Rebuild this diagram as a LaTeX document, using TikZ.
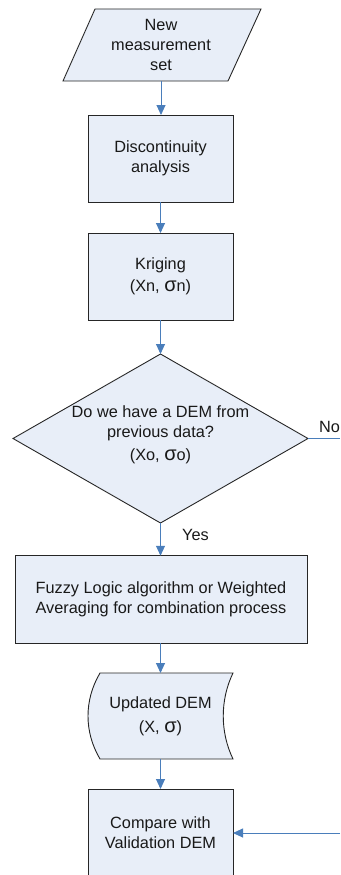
\documentclass[tikz,border=0pt]{standalone}
\usepackage{fontspec}
\setmainfont{Liberation Sans}
\usetikzlibrary{shapes.geometric,arrows.meta}
\definecolor{boxfill}{RGB}{232,238,248}
\definecolor{arrowblue}{RGB}{74,126,187}
\definecolor{edgecol}{RGB}{38,38,38}
\definecolor{txtcol}{RGB}{25,25,25}
\newcommand{\fsz}{\fontsize{16.3}{20}\selectfont}
\newcommand{\sig}{{\fontsize{20}{20}\selectfont σ}}
\begin{document}
\begin{tikzpicture}[x=1pt,y=-1pt,
  shapeline/.style={draw=edgecol,fill=boxfill,line width=0.9pt},
  box/.style={shapeline,minimum width=145pt,minimum height=87pt,inner sep=0pt,outer sep=0pt,align=center,font=\fsz,text=txtcol},
  plain/.style={minimum width=145pt,minimum height=86pt,inner sep=0pt,outer sep=0pt,align=center,font=\fsz,text=txtcol},
  conn/.style={draw=arrowblue,line width=0.9pt,-{Triangle[length=10pt,width=9pt]}},
  connplain/.style={draw=arrowblue,line width=0.9pt},
  lbl/.style={font=\fsz,text=txtcol,inner sep=0pt,anchor=base west}]
\useasboundingbox (0,0) rectangle (340,875);
\clip (0,0) rectangle (340,875);
% parallelogram
\draw[shapeline] (95,9) -- (261,9) -- (228,81) -- (63,81) -- cycle;
\node[plain,minimum width=166pt,minimum height=72pt] (ns) at (161,45) {New\\measurement\\set};
% rectangles
\node[box,minimum height=87pt] (disc) at (160.5,158.5) {Discontinuity\\analysis};
\node[box,minimum height=87pt] (krig) at (160.5,276.5) {Kriging\\[2pt](Xn, \sig n)};
\node[shapeline,diamond,minimum width=295pt,minimum height=169pt,inner sep=0pt,outer sep=0pt] (dem) at (160.5,438.5) {};
\node[font=\fsz,text=txtcol,align=center,inner sep=0pt] (demtxt) at (160.5,435) {Do we have a DEM from\\previous data?\\[3pt](Xo, \sig o)};
\node[box,minimum width=292pt,minimum height=87.5pt] (fuzzy) at (161,599.5) {Fuzzy Logic algorithm or Weighted\\Averaging for combination process};
% stored data shape
\draw[shapeline] (100,673) -- (233,673) .. controls (220,700) and (220,732) .. (233,759) -- (100,759) .. controls (84,732) and (84,700) .. (100,673) -- cycle;
\node[plain] (upd) at (160.5,716) {Updated DEM\\[4pt](X, \sig)};
\node[box,minimum height=88pt] (cmp) at (160.5,833) {Compare with\\Validation DEM};
% connectors
\draw[conn] (ns.south) -- (ns.south |- disc.north);
\draw[conn] (disc.south) -- (disc.south |- krig.north);
\draw[conn] (krig.south) -- (dem.north);
\coordinate (noend) at (340,438.5);
\draw[connplain] (dem.east) -- (noend);
\node[lbl] (nolbl) at (319,432) {No};
\draw[conn] (dem.south) -- (dem.south |- fuzzy.north);
\node[lbl] (yeslbl) at (182,540) {Yes};
\draw[conn] (fuzzy.south -| upd.north) -- (upd.north);
\draw[conn] (upd.south) -- (cmp.north);
\coordinate (cin) at (340,833);
\draw[conn] (cin) -- (cmp.east);
\end{tikzpicture}
\end{document}
